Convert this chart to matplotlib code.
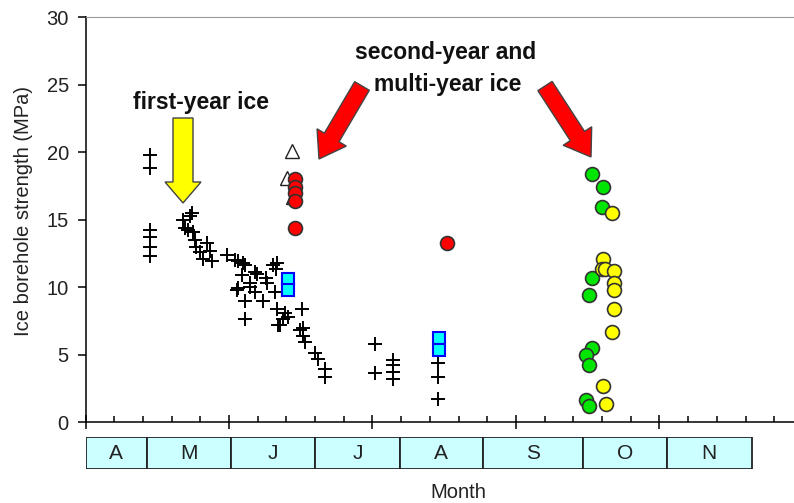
import matplotlib
matplotlib.use('Agg')
import matplotlib.pyplot as plt
import matplotlib.transforms as mtransforms
from matplotlib.patches import FancyArrow
from matplotlib.ticker import MultipleLocator

plt.rcParams['font.family'] = ['Liberation Sans', 'DejaVu Sans']

# Day of year and borehole strength (MPa) for each ice type
fy_day = [122.5, 122.5, 122.5, 122.5, 122.5, 122.5,
          134.0, 136.4, 137.1, 134.7, 135.7, 137.5, 138.2, 138.5, 139.9, 142.3,
          140.9, 144.1, 143.4, 149.3, 153.1, 155.6, 154.5, 159.1, 153.1, 157.3,
          159.1, 155.6, 155.6, 152.1, 154.9, 159.8, 165.3, 166.7, 157.3, 152.8,
          163.2, 161.8, 166.0, 166.7, 169.5, 175.4, 167.8, 170.6, 175.8, 175.8,
          168.8, 167.1, 174.7, 176.5, 180.0, 181.0, 183.4, 183.4, 166.4, 162.9,
          200.9, 200.9, 207.1, 207.1, 207.1, 207.1, 222.8, 222.8, 222.8]
fy_mpa = [19.8, 18.8, 14.2, 13.7, 13.0, 12.3,
          15.0, 15.3, 15.5, 14.4, 14.2, 14.1, 13.5, 13.0, 12.6, 13.3,
          12.1, 11.9, 12.7, 12.4, 11.9, 11.6, 10.9, 11.1, 9.9, 10.0,
          9.6, 9.0, 7.6, 12.0, 11.8, 11.0, 11.6, 11.8, 10.3, 9.8,
          10.3, 9.0, 9.6, 8.4, 8.1, 8.4, 7.2, 7.8, 7.0, 6.4,
          7.6, 7.2, 6.8, 5.9, 5.1, 4.7, 3.9, 3.3, 11.3, 10.7,
          5.8, 3.6, 4.6, 4.2, 3.7, 3.2, 4.4, 3.3, 1.7]

sq_day = [170.6, 170.6, 223.2, 223.2]
sq_mpa = [10.6, 9.8, 6.2, 5.3]

tri_day = [172.0, 170.1, 172.4]
tri_mpa = [20.1, 18.1, 16.7]

red_day = [173.0, 173.0, 173.0, 173.0, 173.0, 225.8]
red_mpa = [18.0, 17.4, 17.0, 16.4, 14.4, 13.3]

green_day = [276.5, 280.3, 280.0, 276.5, 275.4, 276.5, 274.4, 275.4, 274.4, 275.4]
green_mpa = [18.4, 17.4, 15.9, 10.7, 9.4, 5.5, 5.0, 4.2, 1.6, 1.2]

yellow_day = [283.5, 280.3, 280.0, 281.0, 284.2, 284.2, 284.2, 284.2, 283.5, 280.3, 281.3]
yellow_mpa = [15.5, 12.1, 11.3, 11.3, 11.2, 10.3, 9.8, 8.4, 6.7, 2.7, 1.3]

# Month strip along the bottom
month_names = ['A', 'M', 'J', 'J', 'A', 'S', 'O', 'N']
month_edges = [100, 121.4, 150.6, 180.1, 209.5, 238.5, 273.3, 302.7, 332.1]

fig = plt.figure(figsize=(7.94, 5.03), dpi=100)
ax = fig.add_axes([0.1077, 0.161, 0.8923, 0.805])

ax.plot(fy_day, fy_mpa, '+', color='black', ms=10, mew=1.4, zorder=3)
ax.plot(sq_day, sq_mpa, 's', mfc='#00ffff', mec='#0000ff', ms=9, mew=1.5, zorder=3)
ax.plot(tri_day, tri_mpa, '^', mfc='white', mec='#222222', ms=10, mew=1, zorder=3)
ax.plot(red_day, red_mpa, 'o', mfc='#ff0000', mec='#333333', ms=10, mew=1.2, zorder=4)
ax.plot(green_day, green_mpa, 'o', mfc='#00e600', mec='#333333', ms=10, mew=1.2, zorder=4)
ax.plot(yellow_day, yellow_mpa, 'o', mfc='#ffff00', mec='#333333', ms=10, mew=1.2, zorder=4)

ax.set_xlim(100, 346.9)
ax.set_ylim(0, 30)
ax.yaxis.set_major_locator(MultipleLocator(5))
ax.xaxis.set_major_locator(MultipleLocator(50))
ax.xaxis.set_minor_locator(MultipleLocator(10))
ax.tick_params(axis='y', direction='out', length=6, width=1.1, labelsize=14.5,
               labelcolor='#222222', pad=6)
ax.tick_params(axis='x', which='major', direction='inout', length=10, width=1.1,
               labelbottom=False)
ax.tick_params(axis='x', which='minor', direction='in', length=4, width=1.1)
ax.spines['right'].set_visible(False)
ax.spines['top'].set_color('#999999')
ax.spines['top'].set_linewidth(0.8)
ax.spines['left'].set_linewidth(1.1)
ax.spines['bottom'].set_linewidth(1.1)
ax.set_ylabel('Ice borehole strength (MPa)', fontsize=14.5, color='#222222')
ax.yaxis.set_label_coords(-0.074, 0.52)

# Month boxes below the axis
mx = fig.add_axes([0.1077, (503 - 469) / 503, 0.8923, 32 / 503])
mx.set_xlim(ax.get_xlim())
mx.set_ylim(0, 1)
mx.axis('off')
for name, x0, x1 in zip(month_names, month_edges[:-1], month_edges[1:]):
    mx.bar(x0, 1, width=x1 - x0, align='edge', color='#ccffff',
           edgecolor='#222222', linewidth=1.3)
    mx.text((x0 + x1) / 2, 0.47, name, ha='center', va='center', fontsize=15,
            color='#222222')
fig.text(458 / 794, 1 - 492 / 503, 'Month', ha='center', va='center',
         fontsize=14.5, color='#222222')

# Pixel-based transform for the callout arrows and labels
px = mtransforms.Affine2D().scale(1 / 100, -1 / 100).translate(0, 5.03) + fig.dpi_scale_trans

fig.patches.append(FancyArrow(183, 118, 0, 85, width=20, head_width=36, head_length=21,
                              length_includes_head=True, fc='#ffff00', ec='#444444',
                              lw=1, transform=px, figure=fig))
fig.patches.append(FancyArrow(362, 86, -43, 73, width=17, head_width=34, head_length=25,
                              length_includes_head=True, fc='#ff0000', ec='#444444',
                              lw=1, transform=px, figure=fig))
fig.patches.append(FancyArrow(545, 86, 46, 71, width=17, head_width=34, head_length=25,
                              length_includes_head=True, fc='#ff0000', ec='#444444',
                              lw=1, transform=px, figure=fig))

fig.text(201, 103, 'first-year ice', transform=px, ha='center', va='center',
         fontsize=16.5, fontweight='bold', color='#111111')
fig.text(446, 53, 'second-year and', transform=px, ha='center', va='center',
         fontsize=16.5, fontweight='bold', color='#111111')
fig.text(448, 84, 'multi-year ice', transform=px, ha='center', va='center',
         fontsize=16.5, fontweight='bold', color='#111111')

fig.savefig('out.png', dpi=100)
